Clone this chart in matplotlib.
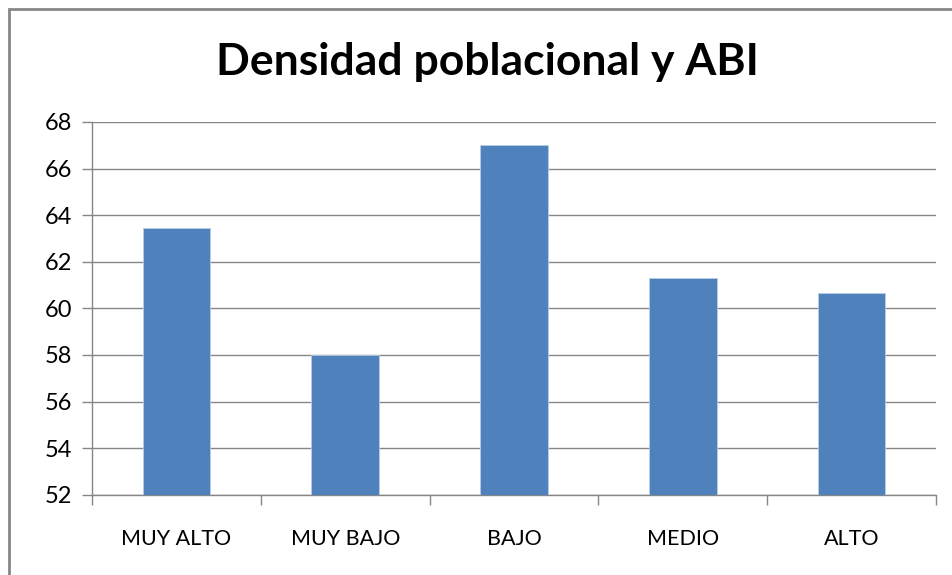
import matplotlib
matplotlib.use('Agg')
import matplotlib.pyplot as plt
from matplotlib.patches import Rectangle

# Datos
categorias = ['MUY ALTO', 'MUY BAJO', 'BAJO', 'MEDIO', 'ALTO']
valores = [63.45, 58.0, 67.0, 61.3, 60.65]

plt.rcParams['font.family'] = ['Lato', 'DejaVu Sans']

fig = plt.figure(figsize=(9.52, 5.75), dpi=100)
ax = fig.add_axes([92 / 952, 1 - 494.7 / 575, (936 - 92) / 952, (494.7 - 122) / 575])

x = range(len(categorias))
ax.bar(x, [v - 52 for v in valores], bottom=52, width=0.4, color='#4F81BD',
       edgecolor='#B9CDE5', linewidth=0.6, zorder=3)

ax.set_xlim(-0.5, len(categorias) - 0.5)
ax.set_ylim(52, 68)
ax.set_yticks(range(52, 69, 2))
ax.set_xticks(x)
ax.set_xticklabels(categorias, fontsize=15.5)
ax.set_xticks([i - 0.5 for i in range(len(categorias) + 1)], minor=True)
ax.tick_params(axis='x', which='major', length=0, pad=25)
ax.tick_params(axis='x', which='minor', length=7, color='#868686', width=1)
ax.tick_params(axis='y', length=7, color='#868686', width=1, labelsize=17, pad=7)
ax.yaxis.grid(True, color='#868686', linewidth=1, zorder=0)

for s in ['top', 'right']:
    ax.spines[s].set_visible(False)
for s in ['left', 'bottom']:
    ax.spines[s].set_color('#868686')
    ax.spines[s].set_linewidth(1)

fig.text(0.512, 1 - 62 / 575, 'Densidad poblacional y ABI', ha='center', va='center',
         fontsize=32, fontweight='bold')

# marco del gráfico
fig.patches.append(Rectangle((9.3 / 952, -0.1), 1.2, 1 - 8.7 / 575 + 0.1,
                             transform=fig.transFigure, fill=False,
                             edgecolor='#868686', linewidth=2))

fig.savefig('out.png', dpi=100)
